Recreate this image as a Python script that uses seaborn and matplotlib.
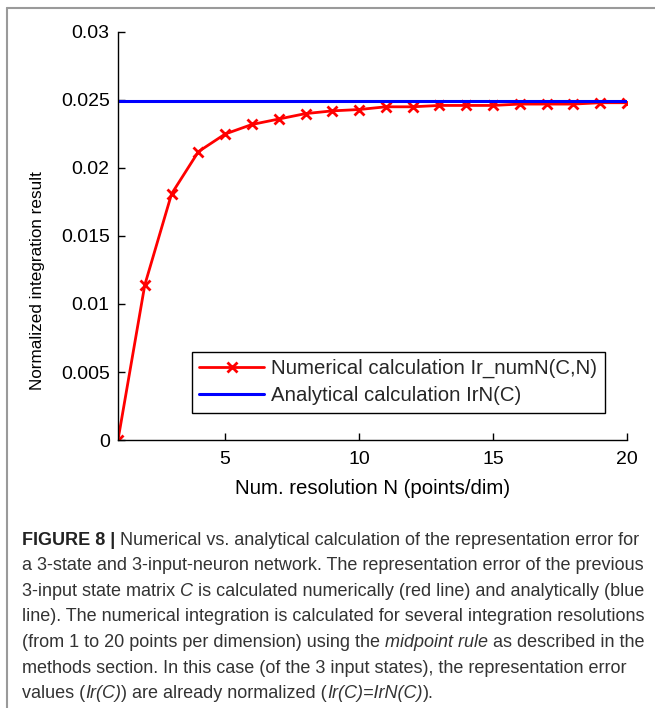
import matplotlib
matplotlib.use('Agg')
import matplotlib.pyplot as plt
import pandas as pd
import seaborn as sns

# data
resolution_n = list(range(1, 21))
numerical_ir = [0.0, 0.0114, 0.0181, 0.0212, 0.0225, 0.0232, 0.0236, 0.0240, 0.0242, 0.0243,
                0.0245, 0.0245, 0.0246, 0.0246, 0.0246, 0.0247, 0.0247, 0.0247, 0.0248, 0.0248]
analytical_ir = 0.0249

x_ticks = [5, 10, 15, 20]
y_ticks = [0, 0.005, 0.01, 0.015, 0.02, 0.025, 0.03]
y_tick_labels = ['0', '0.005', '0.01', '0.015', '0.02', '0.025', '0.03']

num_label = 'Numerical calculation Ir_numN(C,N)'
ana_label = 'Analytical calculation IrN(C)'

caption_lines = [
    [('FIGURE 8 |', 'bold'), (' Numerical vs. analytical calculation of the representation error for', 'normal')],
    [('a 3-state and 3-input-neuron network. The representation error of the previous', 'normal')],
    [('3-input state matrix ', 'normal'), ('C', 'italic'),
     (' is calculated numerically (red line) and analytically (blue', 'normal')],
    [('line). The numerical integration is calculated for several integration resolutions', 'normal')],
    [('(from 1 to 20 points per dimension) using the ', 'normal'), ('midpoint rule', 'italic'),
     (' as described in the', 'normal')],
    [('methods section. In this case (of the 3 input states), the representation error', 'normal')],
    [('values (', 'normal'), ('Ir(C)', 'italic'), (') are already normalized (', 'normal'),
     ('Ir(C)=IrN(C)', 'italic'), (').', 'normal')],
]

df = pd.DataFrame({'N': resolution_n, 'Ir': numerical_ir})

sns.set_theme(style='ticks')
plt.rcParams['font.family'] = ['Liberation Sans', 'DejaVu Sans']

W, H = 655, 708
fig = plt.figure(figsize=(W / 100, H / 100), dpi=100)
ax = fig.add_axes([118 / W, 1 - 440 / H, 509 / W, 408 / H])

sns.lineplot(data=df, x='N', y='Ir', ax=ax, color='red', lw=2, marker='x',
             markersize=7, markeredgewidth=2, markeredgecolor='red', label=num_label)
ax.axhline(analytical_ir, color='blue', lw=2.2, label=ana_label)

ax.set_xlim(1, 20)
ax.set_ylim(0, 0.03)
ax.set_xticks(x_ticks)
ax.set_yticks(y_ticks)
ax.set_yticklabels(y_tick_labels)
ax.tick_params(direction='in', length=5, width=1, colors='black', labelsize=14)
ax.tick_params(axis='y', pad=6)
ax.tick_params(axis='x', pad=8)
sns.despine(ax=ax)
for s in ['left', 'bottom']:
    ax.spines[s].set_color('black')
    ax.spines[s].set_linewidth(1)

ax.set_xlabel('Num. resolution N (points/dim)', fontsize=14.7, color='black')
ax.xaxis.set_label_coords(0.5, -0.095)
ax.set_ylabel('Normalized integration result', fontsize=12.3, color='black')
ax.yaxis.set_label_coords(-0.143, 0.39)

leg = ax.legend(loc='upper left', bbox_to_anchor=(0.145, 0.216), borderaxespad=0,
                fontsize=14.7, handlelength=3.2, handletextpad=0.35, borderpad=0.35,
                labelspacing=0.4, fancybox=False, framealpha=1, edgecolor='black')
leg.get_frame().set_linewidth(1)

# grey frame around the figure
fig.add_artist(plt.Line2D([7 / W, 7 / W], [0, 1 - 8 / H], transform=fig.transFigure,
                          color='#9a9a9a', lw=1.5))
fig.add_artist(plt.Line2D([7 / W, 1], [1 - 8 / H, 1 - 8 / H], transform=fig.transFigure,
                          color='#9a9a9a', lw=1.5))

# caption, written run by run
cap_font = ['Liberation Sans Narrow', 'Liberation Sans', 'DejaVu Sans']
cap_size = 13
renderer = fig.canvas.get_renderer()


def text_width(s, **kw):
    t = fig.text(0, 0, s, **kw)
    w = t.get_window_extent(renderer).width
    t.remove()
    return w


styles = {
    'normal': dict(family=cap_font, fontsize=cap_size, color='#333333'),
    'bold': dict(family=cap_font, fontsize=cap_size, color='#222222', fontweight='bold'),
    'italic': dict(family=cap_font, fontsize=cap_size, color='#333333', style='italic'),
}
space_w = text_width('a a', **styles['normal']) - text_width('aa', **styles['normal'])

baselines = [545, 570, 596, 621, 647, 673, 698]
for line, base in zip(caption_lines, baselines):
    x = 22
    for s, style in line:
        lead = len(s) - len(s.lstrip(' '))
        trail = len(s) - len(s.rstrip(' '))
        x += lead * space_w
        body = s.strip(' ')
        t = fig.text(x / W, 1 - base / H, body, va='baseline', ha='left', **styles[style])
        x += t.get_window_extent(renderer).width + trail * space_w

fig.savefig('out.png', dpi=100)
